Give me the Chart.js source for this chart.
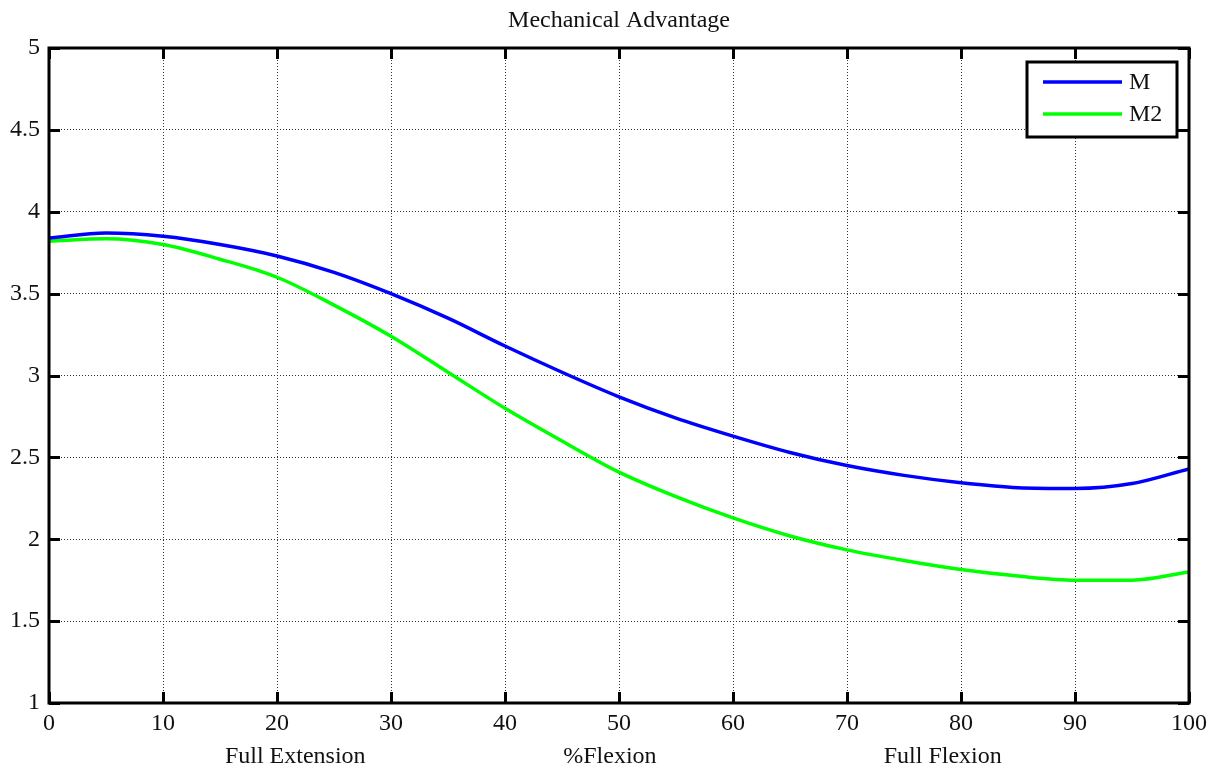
<!DOCTYPE html>
<html>
<head>
<meta charset="utf-8">
<script src="https://cdn.jsdelivr.net/npm/chart.js@4.4.1/dist/chart.umd.min.js"></script>
<style>
  html, body { margin: 0; padding: 0; background: #fff; }
  #wrap { width: 1219px; height: 770px; }
</style>
</head>
<body>
<div id="wrap"><canvas id="maChart" width="1219" height="770"></canvas></div>
<script>
// % flexion samples
const flexion = [0, 5, 10, 15, 20, 25, 30, 35, 40, 45, 50, 55, 60, 65, 70, 75, 80, 85, 90, 95, 100];

// mechanical advantage
const seriesM = [3.84, 3.87, 3.85, 3.80, 3.73, 3.63, 3.50, 3.35, 3.18, 3.02, 2.87, 2.74, 2.63, 2.53, 2.45, 2.39, 2.345, 2.315, 2.31, 2.34, 2.43];
const seriesM2 = [3.82, 3.835, 3.80, 3.71, 3.60, 3.43, 3.24, 3.02, 2.80, 2.60, 2.41, 2.26, 2.13, 2.02, 1.935, 1.87, 1.815, 1.775, 1.75, 1.75, 1.80];

const xTicks = [0, 10, 20, 30, 40, 50, 60, 70, 80, 90, 100];
const yTicks = [1, 1.5, 2, 2.5, 3, 3.5, 4, 4.5, 5];

const bottomLabels = ["Full Extension", "%Flexion", "Full Flexion"];
const bottomLabelAt = [21.6, 49.2, 78.4];

const serif = "'Liberation Serif', 'DejaVu Serif', serif";

// box, inward ticks, title, bottom labels and legend like the matlab figure
const matlabFrame = {
    id: "matlabFrame",
    afterDraw(chart) {
        const ctx = chart.ctx;
        const a = chart.chartArea;
        const xs = chart.scales.x;
        const ys = chart.scales.y;

        ctx.save();
        ctx.strokeStyle = "#000";
        ctx.lineWidth = 3;
        ctx.lineCap = "butt";

        // inward ticks on all sides
        ctx.beginPath();
        xTicks.forEach(v => {
            const px = Math.round(xs.getPixelForValue(v)) + 0.5;
            ctx.moveTo(px, a.bottom);
            ctx.lineTo(px, a.bottom - 11);
            ctx.moveTo(px, a.top);
            ctx.lineTo(px, a.top + 11);
        });
        yTicks.forEach(v => {
            const py = Math.round(ys.getPixelForValue(v)) + 0.5;
            ctx.moveTo(a.left, py);
            ctx.lineTo(a.left + 11, py);
            ctx.moveTo(a.right, py);
            ctx.lineTo(a.right - 11, py);
        });
        ctx.stroke();

        ctx.strokeRect(a.left, a.top, a.right - a.left, a.bottom - a.top);

        // title
        ctx.fillStyle = "#111";
        ctx.font = "24px " + serif;
        ctx.textAlign = "center";
        ctx.textBaseline = "middle";
        ctx.fillText("Mechanical Advantage", (a.left + a.right) / 2, 21);

        // labels under the x ticks
        bottomLabels.forEach((t, i) => {
            ctx.fillText(t, xs.getPixelForValue(bottomLabelAt[i]), 757);
        });

        // legend box in the top right corner
        const bx = 1027, by = 62, bw = 150, bh = 75;
        ctx.fillStyle = "#fff";
        ctx.fillRect(bx, by, bw, bh);
        ctx.lineWidth = 3;
        ctx.strokeRect(bx, by, bw, bh);
        chart.data.datasets.forEach((ds, i) => {
            const ly = by + 20 + i * 32;
            ctx.strokeStyle = ds.borderColor;
            ctx.lineWidth = 3.5;
            ctx.beginPath();
            ctx.moveTo(bx + 16, ly);
            ctx.lineTo(bx + 95, ly);
            ctx.stroke();
            ctx.fillStyle = "#111";
            ctx.font = "24px " + serif;
            ctx.textAlign = "left";
            ctx.fillText(ds.label, bx + 102, ly + 1);
        });
        ctx.restore();
    }
};

const ctx = document.getElementById("maChart").getContext("2d");

new Chart(ctx, {
    type: "line",

    data: {
        datasets: [
            {
                label: "M",
                data: flexion.map((x, i) => ({ x: x, y: seriesM[i] })),
                borderColor: "#0000ff",
                borderWidth: 3.5,
                pointRadius: 0,
                cubicInterpolationMode: "monotone",
                fill: false
            },
            {
                label: "M2",
                data: flexion.map((x, i) => ({ x: x, y: seriesM2[i] })),
                borderColor: "#00ff00",
                borderWidth: 3.5,
                pointRadius: 0,
                cubicInterpolationMode: "monotone",
                fill: false
            }
        ]
    },

    options: {
        responsive: false,
        animation: false,
        devicePixelRatio: 1,

        layout: {
            padding: { top: 48, right: 30, left: 0, bottom: 0 }
        },

        plugins: {
            legend: { display: false },
            title: { display: false },
            tooltip: { enabled: false }
        },

        scales: {
            x: {
                type: "linear",
                min: 0,
                max: 100,
                afterBuildTicks: scale => {
                    scale.ticks = xTicks.map(v => ({ value: v }));
                },
                afterFit: scale => {
                    scale.height = 67;
                },
                grid: {
                    color: "#333",
                    lineWidth: 1,
                    drawTicks: false
                },
                border: { display: false, dash: [1, 2] },
                ticks: {
                    color: "#111",
                    padding: 6,
                    maxRotation: 0,
                    font: { family: serif, size: 24 },
                    callback: v => String(v)
                }
            },

            y: {
                min: 1,
                max: 5,
                afterBuildTicks: scale => {
                    scale.ticks = yTicks.map(v => ({ value: v }));
                },
                afterFit: scale => {
                    scale.width = 49;
                },
                grid: {
                    color: "#333",
                    lineWidth: 1,
                    drawTicks: false
                },
                border: { display: false, dash: [1, 2] },
                ticks: {
                    color: "#111",
                    padding: 9,
                    font: { family: serif, size: 24 },
                    callback: v => String(v)
                }
            }
        }
    },

    plugins: [matlabFrame]
});
</script>
</body>
</html>
